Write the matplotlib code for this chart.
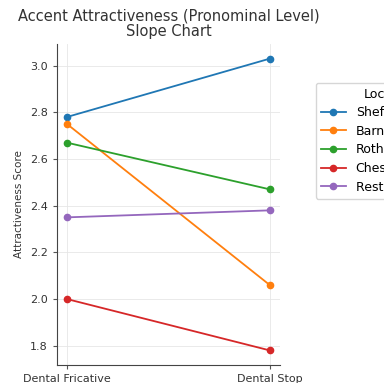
import matplotlib.pyplot as plt

conditions = ["Dental Fricative", "Dental Stop"]
locations = ["Sheffield", "Barnsley", "Rotherham", "Chesterfield", "Rest of Yorkshire"]
fricative = [2.78, 2.75, 2.67, 2.00, 2.35]
stop = [3.03, 2.06, 2.47, 1.78, 2.38]
colors = ["#1f77b4", "#ff7f0e", "#2ca02c", "#d62728", "#9467bd"]

fig = plt.figure(figsize=(3.84, 3.83), dpi=100)
ax = fig.add_axes([0.148, 0.047, 0.581, 0.838])

for name, a, b, c in zip(locations, fricative, stop, colors):
    ax.plot([0, 1], [a, b], marker="o", markersize=4.5, lw=1.3, color=c, label=name)

ax.set_xticks([0, 1])
ax.set_xticklabels(conditions, fontsize=8, color="#333333")
ax.tick_params(axis="y", labelsize=8, labelcolor="#333333")
ax.tick_params(color="#555555", length=3)
ax.set_ylabel("Attractiveness Score", fontsize=7.5, color="#333333")
ax.set_title("Accent Attractiveness (Pronominal Level)\nSlope Chart", fontsize=10.5,
             color="#333333", linespacing=1.0)
ax.grid(True, color="#e6e6e6", lw=0.6)
ax.spines["top"].set_visible(False)
ax.spines["right"].set_visible(False)
for s in ["left", "bottom"]:
    ax.spines[s].set_color("#444444")

ax.legend(title="Location", loc="upper left", bbox_to_anchor=(1.16, 0.88),
          borderaxespad=0, fontsize=9, title_fontsize=9, frameon=True,
          edgecolor="#cccccc", labelspacing=0.45)

fig.savefig("out.png", dpi=100)
